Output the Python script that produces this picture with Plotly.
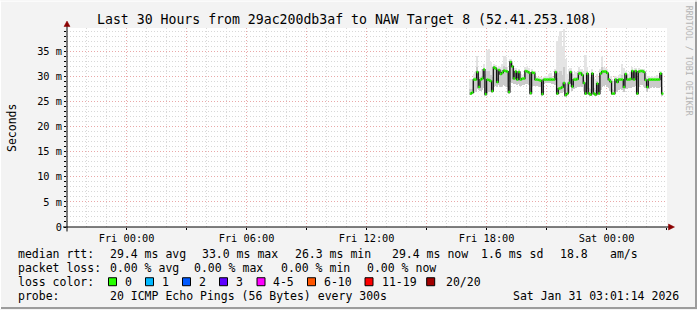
import pandas as pd
import plotly.graph_objects as go

# ---------------- data ----------------
title_text = "Last 30 Hours from 29ac200db3af to NAW Target 8 (52.41.253.108)"
range_start = "2026-01-29 21:01:14"
range_end = "2026-01-31 03:01:14"
data_start = "2026-01-30 17:10:00"

median_ms = [
    26.6, 26.8, 29.4, 29.4, 30.9, 27.9, 29.4, 29.6, 31.4, 26.5,
    29.4, 29.3, 29.1, 27.1, 31.8, 31.6, 28.9, 31.3, 30.5, 30.8,
    31.2, 31.1, 31.0, 26.9, 32.9, 32.0, 29.6, 31.0, 29.4, 30.9,
    29.4, 29.6, 29.6, 31.1, 31.0, 30.8, 26.7, 30.8, 30.7, 29.4,
    29.4, 29.3, 29.2, 26.5, 29.4, 29.4, 29.4, 29.4, 29.4, 29.4,
    29.4, 30.9, 26.6, 27.6, 27.7, 27.9, 28.7, 26.3, 26.6, 28.7,
    30.9, 28.0, 29.4, 29.4, 29.5, 30.6, 30.7, 30.3, 28.7, 26.6,
    30.6, 26.6, 26.4, 30.6, 26.6, 26.4, 28.6, 26.6, 30.6, 31.0,
    31.0, 31.0, 30.7, 29.4, 29.0, 26.6, 26.6, 29.4, 28.9, 29.4,
    29.4, 29.4, 27.9, 30.5, 29.4, 29.4, 29.5, 31.1, 29.4, 31.1,
    26.6, 31.0, 31.1, 31.1, 30.9, 29.3, 27.9, 29.4, 29.4, 29.4,
    29.4, 29.4, 29.4, 29.4, 30.6, 26.6,
]

smoke_top_ms = [
    29.5, 29.4, 30.5, 31.0, 34.0, 31.0, 31.2, 31.5, 32.5, 30.5,
    35.2, 35.5, 33.0, 30.0, 32.5, 32.3, 31.5, 32.2, 32.0, 32.5,
    34.0, 33.8, 32.0, 31.0, 33.5, 32.8, 31.0, 31.8, 30.8, 31.6,
    30.5, 30.3, 30.5, 32.0, 32.2, 31.8, 30.0, 31.5, 31.2, 30.2,
    30.0, 30.0, 30.0, 29.8, 30.0, 30.2, 30.2, 30.6, 30.8, 30.2,
    30.0, 31.5, 37.0, 38.0, 39.0, 36.0, 39.5, 33.5, 30.5, 31.5,
    31.8, 30.5, 30.5, 31.0, 31.0, 32.0, 31.5, 31.5, 31.0, 34.2,
    32.0, 30.5, 30.0, 31.5, 30.0, 29.5, 30.5, 30.0, 31.5, 34.0,
    32.0, 31.8, 31.5, 30.5, 30.2, 29.5, 29.0, 30.2, 30.0, 30.3,
    30.5, 32.5, 31.8, 31.2, 30.3, 30.5, 31.0, 32.0, 30.6, 31.8,
    30.0, 31.8, 31.6, 31.5, 31.6, 30.5, 30.2, 30.2, 30.0, 30.2,
    30.0, 30.1, 30.3, 30.2, 31.2, 30.8,
]

smoke_bottom_ms = [
    26.3, 26.5, 26.8, 27.0, 27.5, 27.4, 27.2, 27.3, 27.8, 26.2,
    26.8, 27.0, 26.9, 26.8, 28.0, 28.2, 28.0, 28.3, 28.0, 28.1,
    28.3, 28.2, 27.9, 26.6, 29.0, 28.8, 28.5, 28.6, 28.4, 28.5,
    28.2, 28.4, 28.3, 28.6, 28.5, 28.4, 26.4, 28.2, 28.2, 28.1,
    28.2, 28.0, 27.9, 26.2, 28.6, 28.7, 28.8, 28.8, 28.7, 28.6,
    28.5, 28.4, 26.3, 26.5, 26.7, 26.8, 26.9, 26.0, 26.3, 26.8,
    28.0, 27.2, 27.6, 27.8, 27.9, 28.0, 28.1, 27.9, 27.2, 26.3,
    27.5, 26.3, 26.1, 27.2, 26.3, 26.1, 26.4, 26.3, 27.4, 28.0,
    28.2, 28.3, 28.0, 27.8, 27.2, 26.3, 26.3, 27.1, 27.0, 27.3,
    27.6, 27.4, 26.9, 27.5, 27.6, 27.8, 27.8, 28.0, 27.9, 28.1,
    26.3, 28.0, 28.3, 28.4, 28.2, 27.8, 27.0, 27.6, 27.8, 27.9,
    27.8, 27.9, 27.8, 27.7, 28.0, 26.2,
]

x_tick_labels = {"2026-01-30 00:00": "Fri 00:00", "2026-01-30 06:00": "Fri 06:00",
                 "2026-01-30 12:00": "Fri 12:00", "2026-01-30 18:00": "Fri 18:00",
                 "2026-01-31 00:00": "Sat 00:00"}
x_grid_times = ["2026-01-30 00:00", "2026-01-30 03:00", "2026-01-30 06:00", "2026-01-30 09:00",
                "2026-01-30 12:00", "2026-01-30 15:00", "2026-01-30 18:00", "2026-01-30 21:00",
                "2026-01-31 00:00", "2026-01-31 03:00"]
y_tick_values = [0, 5, 10, 15, 20, 25, 30, 35]
y_tick_labels = ["0", "5 m", "10 m", "15 m", "20 m", "25 m", "30 m", "35 m"]

legend_rows = [
    [("median rtt:", 16.4), ("29.4 ms avg", 107.6), ("33.0 ms max", 199.5), ("26.3 ms min", 293.3),
     ("29.4 ms now", 389.8), ("1.6 ms sd", 479.1), ("18.8", 557.8), ("am/s", 607.6)],
    [("packet loss:", 16.4), ("0.00 % avg", 107.6), ("0.00 % max", 192.4), ("0.00 % min", 279.1),
     ("0.00 % now", 364.9)],
    [("loss color:", 16.4)],
    [("probe:", 16.4), ("20 ICMP Echo Pings (56 Bytes) every 300s", 107.6)],
]
loss_labels = ["0", "1", "2", "3", "4-5", "6-10", "11-19", "20/20"]
loss_colors = ["#26ff00", "#00b8ff", "#0059ff", "#5e00ff", "#ff00ff", "#ff5500", "#ff0000", "#a10000"]
loss_box_x = [108.5, 145.5, 182.5, 219.5, 257.0, 307.5, 365.0, 426.7]
loss_text_x = [123.0, 160.0, 197.0, 234.0, 271.0, 322.0, 380.0, 444.0]
timestamp_text = "Sat Jan 31 03:01:14 2026"

# ---------------- layout constants ----------------
W, H = 697, 310
PL, PR, PT, PB = 67, 667, 27.5, 227.5
FONT = "DejaVu Sans Mono"


def px(x):
    return (x - PL) / (PR - PL)


def py(y):
    return (PB - y) / (PB - PT)


times = pd.date_range(data_start, periods=len(median_ms), freq="5min")
step = pd.Timedelta("5min")

fig = go.Figure()

# smoke (outer)
fig.add_trace(go.Bar(
    x=times, y=[t - b for t, b in zip(smoke_top_ms, smoke_bottom_ms)], base=smoke_bottom_ms,
    width=300000, offset=0, marker=dict(color="#e4e4e4", line=dict(width=0)),
    hoverinfo="skip", showlegend=False))
# smoke (inner, denser)
inner_top = [m + (t - m) * 0.3 for m, t in zip(median_ms, smoke_top_ms)]
fig.add_trace(go.Bar(
    x=times, y=[t - b for t, b in zip(inner_top, smoke_bottom_ms)], base=smoke_bottom_ms,
    width=300000, offset=0, marker=dict(color="#cacaca", line=dict(width=0)),
    hoverinfo="skip", showlegend=False))

# black median step line
fig.add_trace(go.Scatter(
    x=list(times) + [times[-1] + step], y=median_ms + [median_ms[-1]],
    mode="lines", line=dict(color="#111111", width=1.3, shape="hv"),
    hoverinfo="skip", showlegend=False))

# green median segments (loss 0)
gx, gy = [], []
for t, v in zip(times, median_ms):
    gx += [t, t + step, None]
    gy += [v, v, None]
fig.add_trace(go.Scatter(x=gx, y=gy, mode="lines", line=dict(color=loss_colors[0], width=2.5),
                         hoverinfo="skip", showlegend=False))

annotations = []
shapes = []

# title
annotations.append(dict(text=title_text, x=px(347), y=py(19), xref="paper", yref="paper",
                        showarrow=False, xanchor="center", yanchor="middle",
                        font=dict(family=FONT, size=13.2, color="#000")))
# y title
annotations.append(dict(text="Seconds", x=px(12), y=py(128), xref="paper", yref="paper",
                        showarrow=False, textangle=-90, xanchor="center", yanchor="middle",
                        font=dict(family=FONT, size=11.5, color="#000")))
# watermark
annotations.append(dict(text="RRDTOOL / TOBI OETIKER", x=px(688.5), y=py(60), xref="paper", yref="paper",
                        showarrow=False, textangle=90, xanchor="center", yanchor="middle",
                        font=dict(family=FONT, size=8.3, color="#b4b4b4")))

row_y = [254.5, 268.5, 282.5, 296.5]
for row, yy in zip(legend_rows, row_y):
    for txt, xx in row:
        annotations.append(dict(text=txt, x=px(xx), y=py(yy), xref="paper", yref="paper",
                                showarrow=False, xanchor="left", yanchor="middle",
                                font=dict(family=FONT, size=11.5, color="#000")))
for lab, col, bx, tx in zip(loss_labels, loss_colors, loss_box_x, loss_text_x):
    shapes.append(dict(type="rect", xref="paper", yref="paper", x0=px(bx), x1=px(bx + 8),
                       y0=py(286.5), y1=py(278.5), fillcolor=col, line=dict(color="#000", width=1)))
    annotations.append(dict(text=lab, x=px(tx), y=py(282.5), xref="paper", yref="paper",
                            showarrow=False, xanchor="left", yanchor="middle",
                            font=dict(family=FONT, size=11.5, color="#000")))
annotations.append(dict(text=timestamp_text, x=px(680.5), y=py(296.5), xref="paper", yref="paper",
                        showarrow=False, xanchor="right", yanchor="middle",
                        font=dict(family=FONT, size=11.5, color="#000")))

# axis lines with arrows
shapes.append(dict(type="line", xref="paper", yref="paper", x0=px(67), x1=px(67), y0=py(232), y1=py(25),
                   line=dict(color="#000", width=1)))
shapes.append(dict(type="line", xref="paper", yref="paper", x0=px(63), x1=px(669), y0=py(227.5), y1=py(227.5),
                   line=dict(color="#000", width=1)))
shapes.append(dict(type="path", xref="paper", yref="paper",
                   path=f"M {px(64)} {py(26)} L {px(70)} {py(26)} L {px(67)} {py(20.5)} Z",
                   fillcolor="#8b0000", line=dict(color="#8b0000", width=0.5)))
shapes.append(dict(type="path", xref="paper", yref="paper",
                   path=f"M {px(668.5)} {py(224.5)} L {px(668.5)} {py(230.5)} L {px(674.5)} {py(227.5)} Z",
                   fillcolor="#8b0000", line=dict(color="#8b0000", width=0.5)))
# border (3d)
shapes.append(dict(type="line", xref="paper", yref="paper", x0=px(0), x1=px(697), y0=py(309), y1=py(309),
                   line=dict(color="#9c9c9c", width=2)))
shapes.append(dict(type="line", xref="paper", yref="paper", x0=px(696), x1=px(696), y0=py(0), y1=py(310),
                   line=dict(color="#9c9c9c", width=2)))
shapes.append(dict(type="line", xref="paper", yref="paper", x0=px(0), x1=px(697), y0=py(0.5), y1=py(0.5),
                   line=dict(color="#ffffff", width=1)))
shapes.append(dict(type="line", xref="paper", yref="paper", x0=px(0.5), x1=px(0.5), y0=py(0), y1=py(310),
                   line=dict(color="#ffffff", width=1)))

fig.update_layout(
    width=W, height=H,
    margin=dict(l=PL, r=W - PR, t=PT, b=H - PB, pad=0),
    paper_bgcolor="#f3f3f3", plot_bgcolor="#ffffff",
    barmode="overlay", bargap=0, showlegend=False,
    annotations=annotations, shapes=shapes,
    font=dict(family=FONT, color="#000"),
    xaxis=dict(
        type="date", range=[range_start, range_end],
        tickmode="array", tickvals=x_grid_times,
        ticktext=[x_tick_labels.get(t, "") for t in x_grid_times],
        showgrid=True, gridcolor="#eaa8a8", griddash="1px,2px", gridwidth=1,
        ticks="outside", ticklen=2, tickcolor="#000",
        tickfont=dict(family=FONT, size=10.3, color="#000"),
        showline=False, zeroline=False, fixedrange=True,
        minor=dict(dtick=3600000, tick0="2026-01-30 00:00", showgrid=True, gridcolor="#d8d8d8",
                   griddash="1px,2px", gridwidth=1, ticks=""),
    ),
    yaxis=dict(
        range=[0, 39.68], tickmode="array", tickvals=y_tick_values, ticktext=y_tick_labels,
        showgrid=True, gridcolor="#eaa8a8", griddash="1px,2px", gridwidth=1,
        ticks="outside", ticklen=2, tickcolor="#000",
        tickfont=dict(family=FONT, size=10.3, color="#000"),
        showline=False, zeroline=False, fixedrange=True,
        minor=dict(dtick=1, tick0=0, showgrid=True, gridcolor="#d8d8d8", griddash="1px,2px",
                   gridwidth=1, ticks="outside", ticklen=2, tickcolor="#000"),
    ),
)

fig.write_html("out.html")
